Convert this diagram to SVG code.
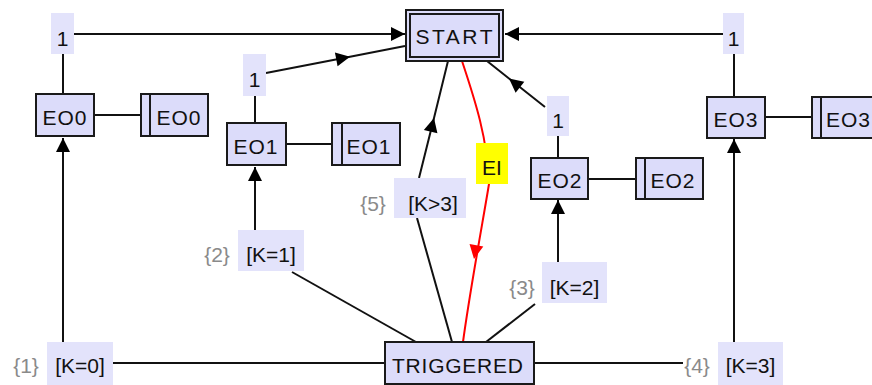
<svg xmlns="http://www.w3.org/2000/svg" width="872" height="385" viewBox="0 0 872 385">
<style>
.node{fill:#dcdcfa;stroke:#1a1a1a;stroke-width:2}
.lbl{fill:#e3e3fb;stroke:none}
.ei{fill:#ffff00;stroke:none}
.t{font-family:"Liberation Sans",Arial,sans-serif;font-size:21px;fill:#111;text-anchor:middle}
.g{font-family:"Liberation Sans",Arial,sans-serif;font-size:21px;fill:#8a8a8a;text-anchor:middle}
.ls{letter-spacing:1px}
.c{fill:none;stroke:#111;stroke-width:2}
.r{fill:none;stroke:#ff0000;stroke-width:2}
.bar{stroke:#1a1a1a;stroke-width:2}
</style>
<defs>
<marker id="ah" viewBox="-15 -8 16 16" refX="0" refY="0" markerWidth="16" markerHeight="16" markerUnits="userSpaceOnUse" orient="auto">
<path d="M0,0 L-14,-7 L-14,7 Z" fill="#000"/>
</marker>
</defs>
<g id="connectors">
<path class="c" d="M74,34 L405,34" marker-end="url(#ah)"/>
<path class="c" d="M723,34 L505,34" marker-end="url(#ah)"/>
<path class="c" d="M63,94 L63,54"/>
<path class="c" d="M63,342 L63,138" marker-end="url(#ah)"/>
<path class="c" d="M94,115 L141,115"/>
<polyline class="c" points="266,73 350,56.7 405,46" marker-mid="url(#ah)"/>
<path class="c" d="M255,123 L255,96"/>
<path class="c" d="M255,230 L255,167" marker-end="url(#ah)"/>
<path class="c" d="M286,144 L332,144"/>
<path class="c" d="M292,272 L416,342"/>
<polyline class="c" points="419,178 434,118 448,61" marker-mid="url(#ah)"/>
<path class="c" d="M417,218 L452,342"/>
<path class="r" d="M462,61 C475,100 488,140 489,184 C484,215 470,290 463,342"/>
<polygon points="0,0 -14,-7 -14,7" fill="#ff0000" transform="translate(474,259) rotate(100)"/>
<polyline class="c" points="545,107 509,78.5 487,61" marker-mid="url(#ah)"/>
<path class="c" d="M558,158 L558,136"/>
<path class="c" d="M558,262 L558,200" marker-end="url(#ah)"/>
<path class="c" d="M588,179 L636,179"/>
<path class="c" d="M535,304 L486,342"/>
<path class="c" d="M734,97 L734,54"/>
<path class="c" d="M734,342 L734,139" marker-end="url(#ah)"/>
<path class="c" d="M765,117 L812,117"/>
<path class="c" d="M113,363 L385,363"/>
<path class="c" d="M534,363 L683,363"/>
</g>
<g id="START">
<rect class="node" x="406" y="10" width="97" height="51"/>
<rect class="node" x="410" y="14" width="89" height="43"/>
<text class="t" x="454" y="44" textLength="77" lengthAdjust="spacing">START</text>
</g>
<g id="TRIGGERED">
<rect class="node" x="385" y="342" width="149" height="42"/>
<text class="t" x="457.5" y="373" textLength="131" lengthAdjust="spacing">TRIGGERED</text>
</g>
<g id="EO0">
<rect class="node" x="36" y="94" width="58" height="42"/>
<text class="t ls" x="65" y="125">EO0</text>
</g>
<g id="EO0_out">
<rect class="node" x="141" y="94" width="67" height="42"/>
<line class="bar" x1="150" y1="94" x2="150" y2="136"/>
<text class="t ls" x="179" y="125">EO0</text>
</g>
<g id="EO1">
<rect class="node" x="227" y="123" width="59" height="42"/>
<text class="t ls" x="256" y="154">EO1</text>
</g>
<g id="EO1_out">
<rect class="node" x="332" y="123" width="68" height="42"/>
<line class="bar" x1="342" y1="123" x2="342" y2="165"/>
<text class="t ls" x="369" y="154">EO1</text>
</g>
<g id="EO2">
<rect class="node" x="531" y="158" width="57" height="41"/>
<text class="t ls" x="560" y="188">EO2</text>
</g>
<g id="EO2_out">
<rect class="node" x="636" y="158" width="67" height="41"/>
<line class="bar" x1="645" y1="158" x2="645" y2="199"/>
<text class="t ls" x="673" y="188">EO2</text>
</g>
<g id="EO3">
<rect class="node" x="707" y="97" width="58" height="41"/>
<text class="t ls" x="736" y="127">EO3</text>
</g>
<g id="EO3_out">
<rect class="node" x="812" y="97" width="70" height="41"/>
<line class="bar" x1="821" y1="97" x2="821" y2="138"/>
<text class="t ls" x="826" y="127" style="text-anchor:start">EO3</text>
</g>
<g id="lbl_1_a">
<rect class="lbl" x="51" y="13" width="23" height="41"/>
<text class="t" x="62.5" y="46">1</text>
</g>
<g id="lbl_1_b">
<rect class="lbl" x="243" y="54" width="23" height="42"/>
<text class="t" x="254.5" y="87">1</text>
</g>
<g id="lbl_1_c">
<rect class="lbl" x="547" y="96" width="22" height="40"/>
<text class="t" x="558" y="128">1</text>
</g>
<g id="lbl_1_d">
<rect class="lbl" x="723" y="13" width="21" height="41"/>
<text class="t" x="733.5" y="46">1</text>
</g>
<g id="lbl_k0">
<rect class="lbl" x="47" y="342" width="66" height="43"/>
<text class="t" x="80" y="373">[K=0]</text>
<text class="g" x="26" y="373">{1}</text>
</g>
<g id="lbl_k1">
<rect class="lbl" x="238" y="230" width="66" height="41"/>
<text class="t" x="271" y="262">[K=1]</text>
<text class="g" x="217" y="262">{2}</text>
</g>
<g id="lbl_k2">
<rect class="lbl" x="542" y="262" width="65" height="41"/>
<text class="t" x="574.5" y="295">[K=2]</text>
<text class="g" x="522" y="295">{3}</text>
</g>
<g id="lbl_k3">
<rect class="lbl" x="718" y="342" width="65" height="43"/>
<text class="t" x="750.5" y="373">[K=3]</text>
<text class="g" x="697" y="373">{4}</text>
</g>
<g id="lbl_k5">
<rect class="lbl" x="394" y="178" width="72" height="40"/>
<text class="t" x="433" y="211">[K&gt;3]</text>
<text class="g" x="373" y="211">{5}</text>
</g>
<g id="lbl_ei">
<rect class="ei" x="476" y="143" width="32" height="41"/>
<text class="t" x="492" y="175">EI</text>
</g>
</svg>
